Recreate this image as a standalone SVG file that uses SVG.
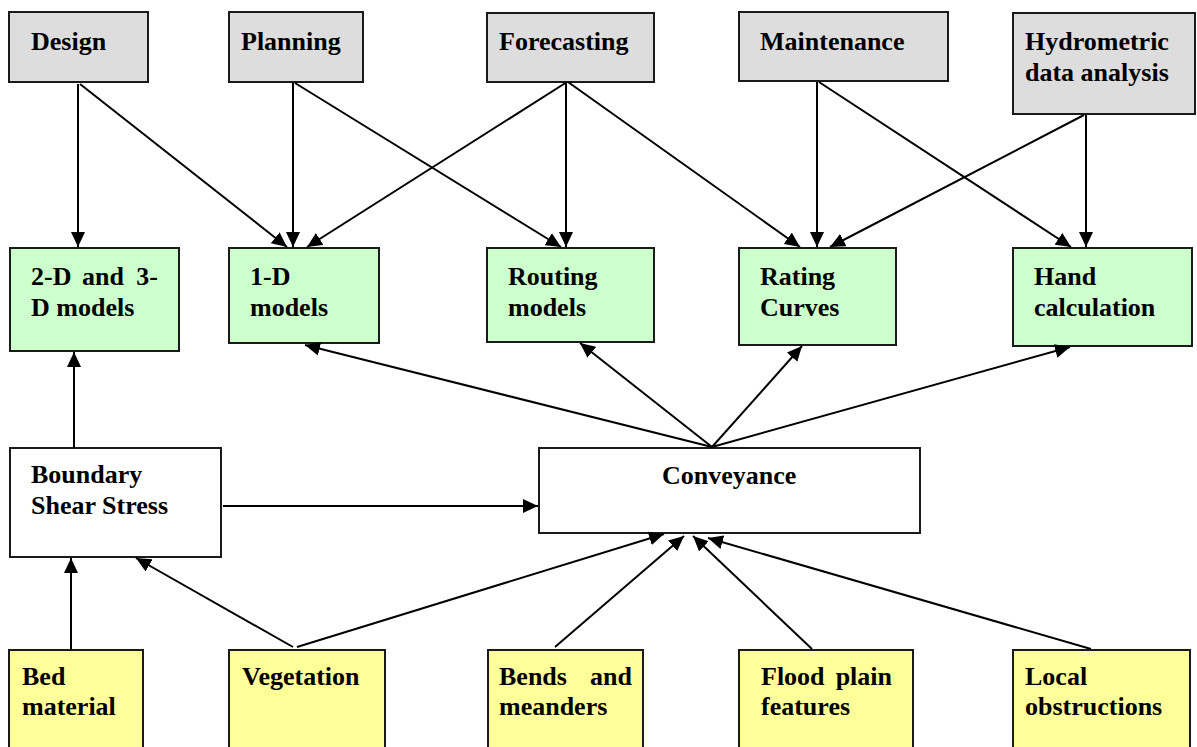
<svg xmlns="http://www.w3.org/2000/svg" width="1197" height="747" viewBox="0 0 1197 747">
<style>
rect{stroke:#1a1a1a;stroke-width:2}
.g{fill:#dddddd}.c{fill:#ccffcc}.w{fill:#ffffff}.y{fill:#ffff99}
text{font-family:"Liberation Serif","Times New Roman",serif;font-weight:bold;font-size:26px;fill:#000}
.e{text-anchor:end}
#connectors line{stroke:#000;stroke-width:2;marker-end:url(#ah)}
</style>
<defs>
<marker id="ah" markerUnits="userSpaceOnUse" markerWidth="16" markerHeight="14" refX="15" refY="7" orient="auto">
<path d="M0,0 L15,7 L0,14 z" fill="#000"/>
</marker>
</defs>
<rect width="1197" height="747" fill="#fff" style="stroke:none"/>
<g id="design"><rect class="g" x="9" y="12" width="139" height="70"/><text x="31" y="50">Design</text></g>
<g id="planning"><rect class="g" x="229" y="12" width="134" height="70"/><text x="241" y="50">Planning</text></g>
<g id="forecasting"><rect class="g" x="487" y="13" width="167" height="69"/><text x="499" y="50">Forecasting</text></g>
<g id="maintenance"><rect class="g" x="739" y="12" width="209" height="69"/><text x="760" y="50">Maintenance</text></g>
<g id="hydrometric"><rect class="g" x="1013" y="13" width="182" height="101"/><text x="1025" y="50">Hydrometric</text><text x="1025" y="81">data analysis</text></g>

<g id="models23"><rect class="c" x="10" y="248" width="169" height="103"/><text y="285"><tspan x="31">2-D</tspan><tspan x="82">and</tspan><tspan x="158" class="e">3-</tspan></text><text x="31" y="316">D models</text></g>
<g id="models1"><rect class="c" x="229" y="248" width="150" height="95"/><text x="250" y="285">1-D</text><text x="250" y="316">models</text></g>
<g id="routing"><rect class="c" x="487" y="248" width="167" height="94"/><text x="508" y="285">Routing</text><text x="508" y="316">models</text></g>
<g id="rating"><rect class="c" x="739" y="248" width="157" height="97"/><text x="760" y="285">Rating</text><text x="760" y="316">Curves</text></g>
<g id="hand"><rect class="c" x="1013" y="248" width="179" height="98"/><text x="1034" y="285">Hand</text><text x="1034" y="316">calculation</text></g>

<g id="boundary"><rect class="w" x="10" y="448" width="211" height="109"/><text x="31" y="483">Boundary</text><text x="31" y="514">Shear Stress</text></g>
<g id="conveyance"><rect class="w" x="539" y="448" width="381" height="85"/><text x="662" y="484">Conveyance</text></g>

<g id="bed"><rect class="y" x="9" y="650" width="134" height="100"/><text x="22" y="685">Bed</text><text x="22" y="715">material</text></g>
<g id="vegetation"><rect class="y" x="229" y="650" width="156" height="100"/><text x="242" y="685">Vegetation</text></g>
<g id="bends"><rect class="y" x="488" y="650" width="155" height="100"/><text y="685"><tspan x="499">Bends</tspan><tspan x="632" class="e">and</tspan></text><text x="499" y="715">meanders</text></g>
<g id="flood"><rect class="y" x="739" y="650" width="174" height="100"/><text y="685"><tspan x="761">Flood</tspan><tspan x="892" class="e">plain</tspan></text><text x="761" y="715">features</text></g>
<g id="local"><rect class="y" x="1013" y="650" width="177" height="100"/><text x="1025" y="685">Local</text><text x="1025" y="715">obstructions</text></g>

<g id="connectors">
<line x1="78" y1="84" x2="78" y2="247"/>
<line x1="80" y1="84" x2="287" y2="247"/>
<line x1="293" y1="83" x2="293" y2="247"/>
<line x1="295" y1="83" x2="561" y2="247"/>
<line x1="567" y1="82" x2="307" y2="247"/>
<line x1="566" y1="82" x2="566" y2="247"/>
<line x1="568" y1="82" x2="800" y2="247"/>
<line x1="817" y1="82" x2="817" y2="247"/>
<line x1="819" y1="82" x2="1071" y2="247"/>
<line x1="1086" y1="115" x2="1086" y2="247"/>
<line x1="1084" y1="115" x2="830" y2="247"/>
<line x1="712" y1="447" x2="305" y2="345"/>
<line x1="712" y1="447" x2="580" y2="343"/>
<line x1="712" y1="447" x2="802" y2="346"/>
<line x1="712" y1="447" x2="1070" y2="347"/>
<line x1="74" y1="448" x2="74" y2="352"/>
<line x1="223" y1="506" x2="538" y2="506"/>
<line x1="71" y1="650" x2="71" y2="558"/>
<line x1="293" y1="647" x2="136" y2="558"/>
<line x1="297" y1="647" x2="664" y2="534"/>
<line x1="555" y1="647" x2="684" y2="536"/>
<line x1="812" y1="649" x2="693" y2="536"/>
<line x1="1091" y1="649" x2="708" y2="538"/>
</g>
</svg>
